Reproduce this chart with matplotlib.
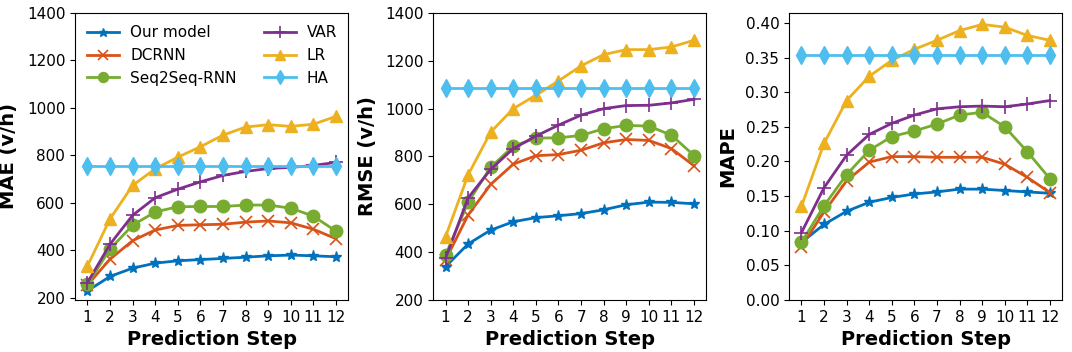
import numpy as np
import matplotlib
matplotlib.use("Agg")
import matplotlib.pyplot as plt

steps = list(range(1, 13))
models = ["Our model", "DCRNN", "Seq2Seq-RNN", "VAR", "LR", "HA"]

# MAE (v/h)
mae_ours = [228, 289, 324, 345, 355, 360, 365, 370, 376, 379, 376, 372]
mae_dcrnn = [253, 362, 440, 485, 504, 507, 509, 518, 523, 515, 488, 448]
mae_seq = [256, 405, 505, 561, 583, 584, 584, 590, 590, 577, 543, 480]
mae_var = [263, 425, 547, 621, 657, 688, 715, 732, 744, 749, 757, 770]
mae_lr = [333, 532, 673, 743, 792, 836, 885, 919, 929, 922, 931, 964]
mae_ha = [755] * 12

# RMSE (v/h)
rmse_ours = [339, 434, 492, 527, 544, 552, 561, 577, 598, 609, 608, 602]
rmse_dcrnn = [367, 555, 683, 768, 803, 808, 826, 857, 871, 867, 833, 761]
rmse_seq = [387, 608, 755, 843, 877, 878, 888, 916, 930, 927, 889, 804]
rmse_var = [374, 627, 746, 833, 885, 931, 973, 1000, 1013, 1014, 1024, 1039]
rmse_lr = [464, 723, 902, 1000, 1056, 1116, 1179, 1226, 1247, 1247, 1258, 1286]
rmse_ha = [1087] * 12

# MAPE
mape_ours = [0.083, 0.109, 0.128, 0.141, 0.148, 0.153, 0.156, 0.160, 0.160, 0.158, 0.156, 0.154]
mape_dcrnn = [0.077, 0.127, 0.172, 0.199, 0.207, 0.207, 0.206, 0.206, 0.206, 0.196, 0.177, 0.155]
mape_seq = [0.083, 0.136, 0.181, 0.216, 0.236, 0.244, 0.254, 0.267, 0.271, 0.250, 0.214, 0.175]
mape_var = [0.097, 0.162, 0.209, 0.239, 0.255, 0.267, 0.276, 0.279, 0.280, 0.279, 0.283, 0.288]
mape_lr = [0.135, 0.226, 0.288, 0.323, 0.346, 0.362, 0.375, 0.389, 0.398, 0.394, 0.382, 0.375]
mape_ha = [0.354] * 12

colors = ["#0072BD", "#D95319", "#77AC30", "#7E2F8E", "#EDB120", "#4DBEEE"]
markers = ["*", "x", "o", "+", "^", "d"]
msizes = [8, 9, 9, 10, 9, 9]

panels = [
    ("MAE (v/h)", [mae_ours, mae_dcrnn, mae_seq, mae_var, mae_lr, mae_ha], (190, 1400)),
    ("RMSE (v/h)", [rmse_ours, rmse_dcrnn, rmse_seq, rmse_var, rmse_lr, rmse_ha], (200, 1400)),
    ("MAPE", [mape_ours, mape_dcrnn, mape_seq, mape_var, mape_lr, mape_ha], (0, 0.4144)),
]
lefts = [0.070, 0.404, 0.736]

fig = plt.figure(figsize=(10.72, 3.52), dpi=100)
for i, (ylabel, series, ylim) in enumerate(panels):
    ax = fig.add_axes([lefts[i], 0.148, 0.255, 0.815])
    for name, vals, c, m, ms in zip(models, series, colors, markers, msizes):
        ax.plot(steps, vals, color=c, marker=m, markersize=ms, linewidth=2,
                markeredgewidth=1.2 if m in ("x", "+") else 1, label=name)
    ax.set_ylim(*ylim)
    ax.set_xticks(steps)
    ax.tick_params(labelsize=11)
    ax.set_xlabel("Prediction Step", fontsize=14, fontweight="bold")
    ax.set_ylabel(ylabel, fontsize=14, fontweight="bold", labelpad=6)
    if i == 2:
        ax.set_yticks(np.arange(0, 0.41, 0.05))
        ax.yaxis.set_major_formatter(matplotlib.ticker.FormatStrFormatter("%.2f"))
    if i == 0:
        ax.legend(loc="upper left", ncol=2, frameon=False, fontsize=11,
                  columnspacing=1.8, handlelength=2.1, handletextpad=0.7,
                  labelspacing=0.5, markerscale=0.8, borderaxespad=0.4)

fig.savefig("out.png", dpi=100)
